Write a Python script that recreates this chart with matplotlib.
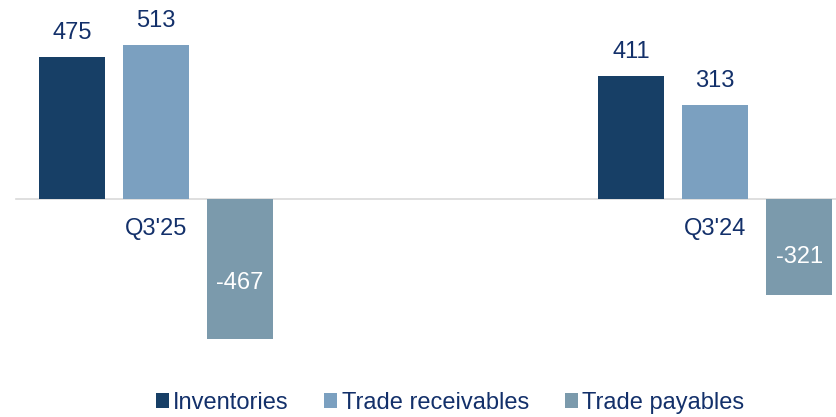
import numpy as np
import matplotlib.pyplot as plt
from matplotlib.patches import Patch

# Data
periods = ["Q3'25", "Q3'24"]
series = ["Inventories", "Trade receivables", "Trade payables"]
inventories = [475, 411]
receivables = [513, 313]
payables = [-467, -321]

colors = ["#173F66", "#7BA0C0", "#7B9AAC"]
text_color = "#13306A"

plt.rcParams['font.family'] = ['Liberation Sans', 'DejaVu Sans']
fs = 17

fig = plt.figure(figsize=(8.36, 4.17), dpi=100)
ax = fig.add_axes([16 / 836, 57 / 417, 820 / 836, 360 / 417])

x = np.arange(len(periods))
w = 0.118
d = 0.150
values = [inventories, receivables, payables]

for i, (vals, col) in enumerate(zip(values, colors)):
    pos = x + (i - 1) * d
    bars = ax.bar(pos, vals, width=w, color=col, zorder=2)
    for b, v in zip(bars, vals):
        cx = b.get_x() + b.get_width() / 2
        if v >= 0:
            ax.annotate(str(v), (cx, v), xytext=(0, 17.5), textcoords='offset points',
                        ha='center', va='center', fontsize=fs, color=text_color)
        else:
            ax.text(cx, v * 0.6, str(v), ha='center', va='center',
                    fontsize=fs, color='white')

ax.set_xlim(-0.250, 1.216)
ax.set_ylim(-538, 665)

ax.spines['bottom'].set_position(('data', 0))
ax.spines['bottom'].set_color('#D9D9D9')
ax.spines['bottom'].set_linewidth(1.2)
ax.spines['bottom'].set_zorder(1)
for s in ['top', 'left', 'right']:
    ax.spines[s].set_visible(False)

ax.set_xticks(x)
ax.set_xticklabels(periods, fontsize=fs, color=text_color)
ax.tick_params(axis='x', length=0, pad=14)
ax.set_yticks([])

handles = [Patch(facecolor=c, label=s) for c, s in zip(colors, series)]
leg = fig.legend(handles=handles, loc='center', bbox_to_anchor=(450 / 836, 0.034),
                 ncol=3, frameon=False, fontsize=fs, handlelength=0.55,
                 handleheight=0.55, handletextpad=0.2, columnspacing=1.5)
for t in leg.get_texts():
    t.set_color(text_color)

fig.savefig('out.png', dpi=100)
